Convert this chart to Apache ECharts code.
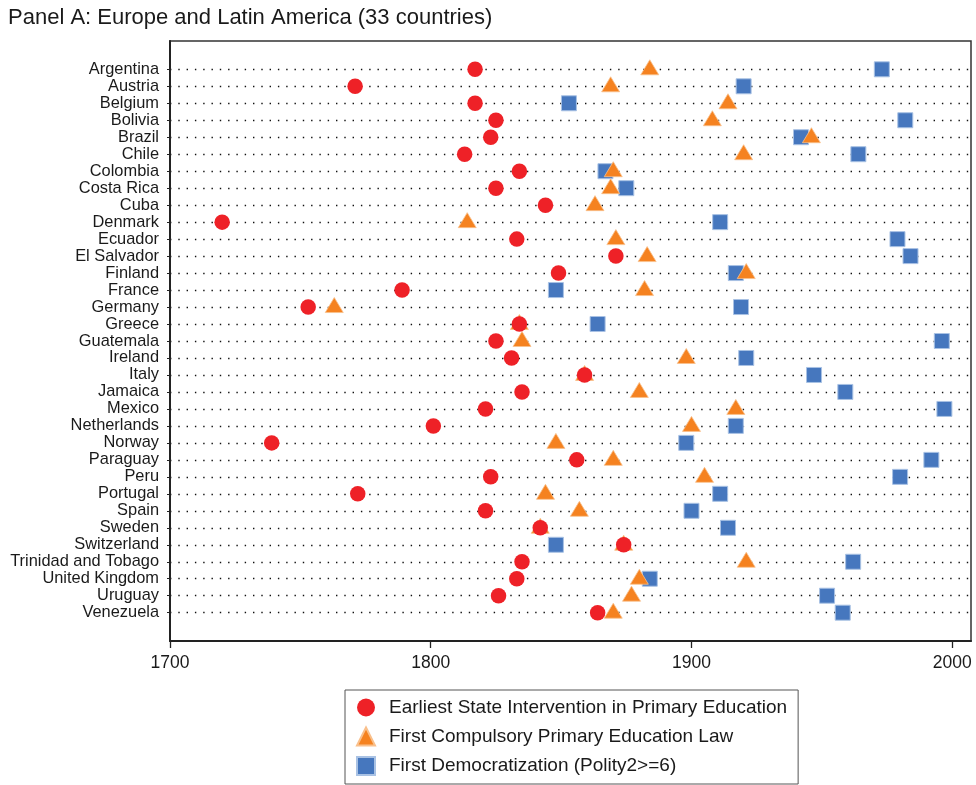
<!DOCTYPE html>
<html>
<head>
<meta charset="utf-8">
<script src="https://cdn.jsdelivr.net/npm/echarts@6/dist/echarts.min.js"></script>
<style>
  html, body { margin: 0; padding: 0; background: #fff; }
  #chart { width: 976px; height: 785px; }
</style>
</head>
<body>
<div id="chart"></div>
<script>
// Countries, listed top to bottom
const countries = [
  "Argentina", "Austria", "Belgium", "Bolivia", "Brazil", "Chile", "Colombia",
  "Costa Rica", "Cuba", "Denmark", "Ecuador", "El Salvador", "Finland", "France",
  "Germany", "Greece", "Guatemala", "Ireland", "Italy", "Jamaica", "Mexico",
  "Netherlands", "Norway", "Paraguay", "Peru", "Portugal", "Spain", "Sweden",
  "Switzerland", "Trinidad and Tobago", "United Kingdom", "Uruguay", "Venezuela"
];

// Year of earliest state intervention in primary education
const earliestIntervention = [
  1817, 1771, 1817, 1825, 1823, 1813, 1834, 1825, 1844, 1720, 1833, 1871, 1849,
  1789, 1753, 1834, 1825, 1831, 1859, 1835, 1821, 1801, 1739, 1856, 1823, 1772,
  1821, 1842, 1874, 1835, 1833, 1826, 1864
];

// Year of the first compulsory primary education law
const compulsoryLaw = [
  1884, 1869, 1914, 1908, 1946, 1920, 1870, 1869, 1863, 1814, 1871, 1883, 1921,
  1882, 1763, 1834, 1835, 1898, 1859, 1880, 1917, 1900, 1848, 1870, 1905, 1844,
  1857, 1842, 1874, 1921, 1880, 1877, 1870
];

// Year of first democratization (Polity2 >= 6); null = never
const democratization = [
  1973, 1920, 1853, 1982, 1942, 1964, 1867, 1875, null, 1911, 1979, 1984, 1917,
  1848, 1919, 1864, 1996, 1921, 1947, 1959, 1997, 1917, 1898, 1992, 1980, 1911,
  1900, 1914, 1848, 1962, 1884, 1952, 1958
];

const yearTicks = [1700, 1800, 1900, 2000];

const FONT = "'Liberation Sans', Arial, Helvetica, sans-serif";

function toPoints(values) {
  const pts = [];
  values.forEach(function (v, i) {
    if (v !== null && v !== undefined) pts.push([v, i]);
  });
  return pts;
}

const rowIndex = countries.map(function (_, i) { return i; });

const chart = echarts.init(document.getElementById('chart'), null, { renderer: 'canvas' });

chart.setOption({
  backgroundColor: '#ffffff',
  animation: false,
  textStyle: { fontFamily: FONT },
  title: {
    text: 'Panel A: Europe and Latin America (33 countries)',
    left: 3,
    top: 2,
    textStyle: { fontFamily: FONT, fontSize: 22, fontWeight: 'normal', color: '#1a1a1a' }
  },
  grid: {
    left: 170,
    top: 41,
    width: 801,
    height: 600,
    show: true,
    borderColor: '#333333',
    borderWidth: 1.5,
    containLabel: false
  },
  legend: {
    orient: 'vertical',
    left: 345,
    top: 690,
    height: 110,
    padding: [8, 11, 8, 11],
    itemWidth: 18,
    itemHeight: 18,
    itemGap: 9.5,
    borderColor: '#555555',
    borderWidth: 1,
    backgroundColor: '#ffffff',
    data: [
      'Earliest State Intervention in Primary Education',
      'First Compulsory Primary Education Law',
      'First Democratization (Polity2>=6)'
    ],
    textStyle: { fontFamily: FONT, fontSize: 19, color: '#1a1a1a', padding: [0, 0, 0, 9] }
  },
  xAxis: {
    type: 'value',
    min: 1700,
    max: 2007.2,
    axisLine: { show: true, onZero: false, lineStyle: { color: '#222', width: 2 } },
    axisTick: { show: true, length: 7, customValues: yearTicks, lineStyle: { color: '#222', width: 1.3 } },
    axisLabel: {
      customValues: yearTicks,
      margin: 13,
      fontFamily: FONT,
      fontSize: 17.5,
      color: '#1a1a1a',
      formatter: function (v) { return String(v); }
    },
    splitLine: { show: false }
  },
  yAxis: {
    type: 'value',
    inverse: true,
    min: -1.667,
    max: 33.667,
    axisLine: { show: true, onZero: false, lineStyle: { color: '#222', width: 2 } },
    axisTick: { show: true, length: 3, customValues: rowIndex, lineStyle: { color: '#222', width: 1 } },
    axisLabel: {
      customValues: rowIndex,
      margin: 11,
      fontFamily: FONT,
      fontSize: 16.4,
      color: '#1a1a1a',
      formatter: function (v) { return countries[Math.round(v)] || ''; }
    },
    splitLine: {
      show: true,
      lineStyle: { color: '#111', width: 1.4, type: [1.4, 6.9] }
    }
  },
  series: [
    {
      name: 'First Democratization (Polity2>=6)',
      type: 'scatter',
      symbol: 'rect',
      symbolSize: 15,
      z: 2,
      itemStyle: { color: '#4677BE', borderColor: '#a9c2e4', borderWidth: 1, opacity: 1 },
      data: toPoints(democratization)
    },
    {
      name: 'First Compulsory Primary Education Law',
      type: 'scatter',
      symbol: 'triangle',
      symbolSize: [18, 15],
      symbolOffset: [0, -2],
      z: 3,
      itemStyle: { color: '#F58220', borderColor: '#f9c08c', borderWidth: 0.8, opacity: 1 },
      data: toPoints(compulsoryLaw)
    },
    {
      name: 'Earliest State Intervention in Primary Education',
      type: 'scatter',
      symbol: 'circle',
      symbolSize: 15.5,
      z: 4,
      itemStyle: { color: '#EE2127', opacity: 1 },
      data: toPoints(earliestIntervention)
    }
  ]
});
</script>
</body>
</html>
